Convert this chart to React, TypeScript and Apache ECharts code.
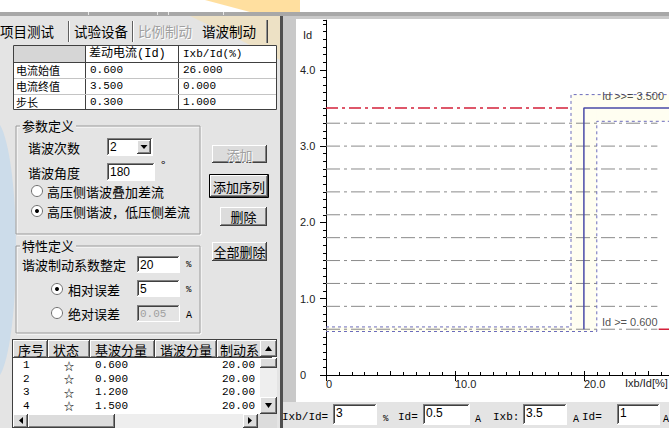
import React, { useEffect, useRef } from "react";
import * as echarts from "echarts";

// ---------------- data ----------------
const tabNames = ["项目测试", "试验设备", "比例制动", "谐波制动"];
const tableCols = ["差动电流(Id)", "Ixb/Id(%)"];
const tableRows = ["电流始值", "电流终值", "步长"];
const idCol = ["0.600", "3.500", "0.300"];
const ratioCol = ["26.000", "0.000", "1.000"];
const paramTitle = "参数定义";
const harmonicOrderLabel = "谐波次数";
const harmonicOrder = "2";
const harmonicAngleLabel = "谐波角度";
const harmonicAngle = "180";
const radioModes = ["高压侧谐波叠加差流", "高压侧谐波，低压侧差流"];
const buttonNames = ["添加", "添加序列", "删除", "全部删除"];
const charTitle = "特性定义";
const coefLabel = "谐波制动系数整定";
const coefSetting = "20";
const errLabels = ["相对误差", "绝对误差"];
const relErr = "5";
const absErr = "0.05";
const listCols = ["序号", "状态", "基波分量", "谐波分量", "制动系"];
const listIdx = ["1", "2", "3", "4"];
const listState = ["☆", "☆", "☆", "☆"];
const listFund = ["0.600", "0.900", "1.200", "1.500"];
const listCoef = ["20.00", "20.00", "20.00", "20.00"];
const bottomLabels = ["Ixb/Id=", "Id=", "Ixb:", "Id="];
const bottomValues = ["3", "0.5", "3.5", "1"];
const bottomUnits = ["%", "A", "A", "A"];

// chart data
const xMax = 26.6;
const yMax = 4.65;
const xLabelTicks = [0, 10, 20];
const yLabelTicks = [0, 1, 2, 3, 4];
const axisNameY = "Id";
const axisNameX = "Ixb/Id[%]";
const testLevels = [0.6, 0.9, 1.2, 1.5, 1.8, 2.1, 2.4, 2.7, 3.0, 3.3];
const testSpan = [0, 25.7];
const quickLine = [[0, 3.5], [19, 3.5]];
const minLineTail = [[25.8, 0.6], [26.6, 0.6]];
const characteristic = [[20, 0.6], [20, 3.5], [26.6, 3.5]];
const outerBound = [[0, 0.63], [19, 0.63], [19, 3.675], [26.6, 3.675]];
const innerBound = [[0, 0.57], [21, 0.57], [21, 3.325], [26.6, 3.325]];
const bandRects = [
  [[19, 0.57], [21, 3.675]],
  [[0, 0.57], [19, 0.63]],
  [[21, 3.325], [26.6, 3.675]],
];
const charLabels = ["Id >>= 3.500", "Id >= 0.600"];
const charLabelAt = [[21.4, 3.66], [21.4, 0.7]];

// ---------------- drawing helpers ----------------
const CJK = "'Noto Sans CJK SC', 'Noto Sans', sans-serif";
const MONO = "'Liberation Mono', 'Noto Sans CJK SC', monospace";
const SANS = "'Liberation Sans', Arial, sans-serif";
const PANEL = "#e4e4e4";
const BTN = "#dcdcdc";

function T(x: number, y: number, text: string, o: any = {}) {
  const align = o.align ?? "left";
  return {
    type: "text",
    x,
    y,
    z: o.z ?? 30,
    silent: true,
    style: {
      text,
      fill: o.fill ?? "#000",
      font: `${o.weight ?? "normal"} ${o.size ?? 13}px ${o.family ?? CJK}`,
      textAlign: align,
      textVerticalAlign: "middle",
      align,
      verticalAlign: "middle",
    },
  };
}
function R(x: number, y: number, w: number, h: number, fill: string, stroke?: string, z = 5) {
  return {
    type: "rect",
    z,
    silent: true,
    shape: stroke ? { x: x + 0.5, y: y + 0.5, width: w - 1, height: h - 1 } : { x, y, width: w, height: h },
    style: { fill, stroke: stroke ?? "none", lineWidth: 1 },
  };
}
function L(x1: number, y1: number, x2: number, y2: number, stroke: string, z = 20) {
  let a = x1, b = y1, c = x2, d = y2;
  if (y1 === y2) { b += 0.5; d += 0.5; }
  if (x1 === x2) { a += 0.5; c += 0.5; }
  return { type: "line", z, silent: true, shape: { x1: a, y1: b, x2: c, y2: d }, style: { stroke, lineWidth: 1 } };
}
function sunken(x: number, y: number, w: number, h: number, fill = "#fff") {
  return [
    R(x, y, w, h, fill, undefined, 10),
    L(x, y, x + w - 1, y, "#808080"),
    L(x, y, x, y + h - 1, "#808080"),
    L(x + 1, y + 1, x + w - 2, y + 1, "#404040"),
    L(x + 1, y + 1, x + 1, y + h - 2, "#404040"),
    L(x, y + h - 1, x + w, y + h - 1, "#ffffff"),
    L(x + w - 1, y, x + w - 1, y + h, "#ffffff"),
  ];
}
function raised(x: number, y: number, w: number, h: number, fill = BTN, z = 10) {
  return [
    R(x, y, w, h, fill, undefined, z),
    L(x, y, x + w - 1, y, "#ffffff", z + 1),
    L(x, y, x, y + h - 1, "#ffffff", z + 1),
    L(x, y + h - 1, x + w, y + h - 1, "#404040", z + 1),
    L(x + w - 1, y, x + w - 1, y + h, "#404040", z + 1),
    L(x + 1, y + h - 2, x + w - 1, y + h - 2, "#808080", z + 1),
    L(x + w - 2, y + 1, x + w - 2, y + h - 1, "#808080", z + 1),
  ];
}
function radio(cx: number, cy: number, checked: boolean) {
  const els: any[] = [
    { type: "circle", z: 20, silent: true, shape: { cx, cy, r: 5.5 }, style: { fill: "#fff", stroke: "#707070", lineWidth: 1 } },
  ];
  if (checked) els.push({ type: "circle", z: 21, silent: true, shape: { cx, cy, r: 2 }, style: { fill: "#000" } });
  return els;
}
function groupBox(x: number, y: number, w: number, h: number, title: string) {
  return [
    R(x + 0.5, y + 0.5, w, h, "none", "#9a9a9a", 8),
    R(x + 1.5, y + 1.5, w, h, "none", "#ffffff", 7),
    R(x + 5, y - 8, title.length * 13 + 4, 16, PANEL, undefined, 12),
    T(x + 7, y, title, { size: 13 }),
  ];
}
function disabledText(x: number, y: number, text: string, o: any = {}) {
  return [
    T(x + 1, y + 1, text, { ...o, fill: "#ffffff", z: 29 }),
    T(x, y, text, { ...o, fill: "#a0a0a0" }),
  ];
}

function buildGraphics() {
  const g: any[] = [];
  // page / frame backgrounds
  g.push(R(0, 0, 669, 12, "#ffffff", undefined, -20));
  g.push({ type: "polygon", z: -19, silent: true, shape: { points: [[205, 0], [300, 0], [300, 12], [250, 12]] }, style: { fill: "rgba(255,196,80,0.55)" } });
  g.push(R(0, 12, 669, 4, "#a8a8a8", undefined, -18));
  g.push(L(88, 12, 88, 15, "#e8e8e8", -17), L(157, 12, 157, 15, "#e8e8e8", -17), L(168, 12, 168, 15, "#e8e8e8", -17), L(223, 12, 223, 15, "#e8e8e8", -17));
  g.push(R(0, 16, 280, 412, PANEL, undefined, -18));
  g.push({ type: "polygon", z: -17, silent: true, shape: { points: [[190, 16], [280, 16], [280, 60], [240, 40]] }, style: { fill: "rgba(255,220,140,0.35)" } });
  g.push({ type: "ellipse", z: -17, silent: true, shape: { cx: -6, cy: 250, rx: 22, ry: 130 }, style: { fill: "rgba(120,190,255,0.22)" } });
  g.push(R(280, 16, 3, 412, "#505050", undefined, -18));
  g.push(R(283, 16, 386, 412, "#c9c9c9", undefined, -18));
  g.push(R(296, 19, 373, 383, "#ffffff", undefined, -16));
  g.push(R(283, 402, 386, 26, PANEL, undefined, -16));

  // tabs
  const TAB = 13.5;
  g.push(T(0, 31, tabNames[0], { size: TAB }));
  g.push(L(68, 21, 68, 42, "#606060"), L(69, 21, 69, 42, "#ffffff"));
  g.push(T(74, 31, tabNames[1], { size: TAB }));
  g.push(L(132, 21, 132, 42, "#606060"), L(133, 21, 133, 42, "#ffffff"));
  g.push(...disabledText(138, 31, tabNames[2], { size: TAB }));
  g.push(T(202, 31, tabNames[3], { size: TAB }));
  g.push(L(267, 20, 267, 43, "#404040"), L(266, 20, 266, 43, "#909090"));

  // parameter table
  const tx = [13, 85, 178, 277];
  const ty = [45, 62, 78, 94, 110];
  g.push(R(tx[0], ty[0], tx[3] - tx[0], ty[4] - ty[0], "#ffffff", undefined, 9));
  g.push(R(tx[0] + 1, ty[0] + 1, tx[1] - tx[0] - 1, ty[1] - ty[0] - 1, "#d6d6d6", undefined, 10));
  g.push(R(tx[0], ty[0], tx[3] - tx[0], ty[4] - ty[0], "none", "#404040", 22));
  g.push(L(tx[1], ty[0], tx[1], ty[4], "#404040"), L(tx[2], ty[0], tx[2], ty[4], "#404040"));
  g.push(L(tx[0], ty[1], tx[3], ty[1], "#404040"));
  g.push(L(tx[0], ty[2], tx[3], ty[2], "#c4c4c4"), L(tx[0], ty[3], tx[3], ty[3], "#c4c4c4"));
  g.push(T(tx[1] + 4, 54, tableCols[0], { size: 12, family: MONO }));
  g.push(T(tx[2] + 5, 54, tableCols[1], { size: 11, family: MONO }));
  tableRows.forEach((r, i) => {
    const cy = (ty[i + 1] + ty[i + 2]) / 2;
    g.push(T(tx[0] + 3, cy, r, { size: 11 }));
    g.push(T(tx[1] + 5, cy, idCol[i], { size: 11, family: MONO }));
    g.push(T(tx[2] + 5, cy, ratioCol[i], { size: 11, family: MONO }));
  });

  // group box 1
  g.push(...groupBox(15, 125, 185, 109, paramTitle));
  g.push(T(28, 147, harmonicOrderLabel));
  g.push(...sunken(107, 138, 46, 18));
  g.push(T(110, 147, harmonicOrder, { size: 12, family: SANS }));
  g.push(...raised(137, 140, 14, 14, BTN, 24));
  g.push({ type: "polygon", z: 27, silent: true, shape: { points: [[140.5, 145], [147.5, 145], [144, 149]] }, style: { fill: "#000" } });
  g.push(T(28, 172, harmonicAngleLabel));
  g.push(...sunken(107, 163, 48, 18));
  g.push(T(110, 172, harmonicAngle, { size: 12, family: SANS }));
  g.push(T(161, 164, "°", { size: 12 }));
  g.push(...radio(37, 191, false));
  g.push(T(47, 191, radioModes[0]));
  g.push(...radio(37, 211, true));
  g.push(T(47, 211, radioModes[1]));

  // buttons
  g.push(...raised(212, 145, 55, 18));
  g.push(...disabledText(239.5, 154, buttonNames[0], { align: "center" }));
  g.push(R(209, 174, 60, 24, "none", "#000000", 26));
  g.push(...raised(210, 175, 58, 22));
  g.push(T(239, 186, buttonNames[1], { align: "center" }));
  g.push(...raised(220, 207, 47, 19));
  g.push(T(243.5, 216.5, buttonNames[2], { align: "center" }));
  g.push(...raised(212, 242, 55, 19));
  g.push(T(239.5, 251.5, buttonNames[3], { align: "center" }));

  // group box 2
  g.push(...groupBox(15, 245, 185, 88, charTitle));
  g.push(T(22, 264, coefLabel));
  g.push(...sunken(137, 256, 43, 17));
  g.push(T(140, 264.5, coefSetting, { size: 12, family: SANS }));
  g.push(T(186, 265, "%", { size: 9, family: MONO }));
  g.push(...radio(57, 289, true));
  g.push(T(68, 289, errLabels[0]));
  g.push(...sunken(137, 280, 43, 17));
  g.push(T(140, 288.5, relErr, { size: 12, family: SANS }));
  g.push(T(186, 290, "%", { size: 9, family: MONO }));
  g.push(...radio(57, 313, false));
  g.push(T(68, 313, errLabels[1]));
  g.push(...sunken(137, 305, 43, 17, PANEL));
  g.push(T(140, 314, absErr, { size: 11, family: MONO, fill: "#a0a0a0" }));
  g.push(T(186, 315, "A", { size: 10, family: MONO }));

  // list
  const lx = [13, 48, 90, 155, 217, 260, 277];
  const lyTop = 340, lyHead = 358, rowH = 13.5;
  g.push(R(lx[0], lyTop, lx[6] - lx[0], 428 - lyTop, "#ffffff", undefined, 9));
  g.push(L(lx[0], lyTop - 1, lx[6], lyTop - 1, "#404040"), L(lx[0] - 1, lyTop - 1, lx[0] - 1, 428, "#404040"));
  for (let i = 0; i < 5; i++) {
    const w = (i === 4 ? lx[5] : lx[i + 1]) - lx[i];
    g.push(...raised(lx[i], lyTop, w + (i === 4 ? 12 : 0), lyHead - lyTop, BTN, 12));
  }
  listCols.forEach((c, i) => {
    const starts = [18, 53, 95, 160, 220];
    g.push(T(starts[i], 349, c, { size: 13 }));
  });
  listIdx.forEach((v, i) => {
    const cy = lyHead + 7 + i * rowH;
    g.push(T(23, cy, v, { size: 11, family: MONO }));
    g.push(T(69, cy, listState[i], { size: 10.5, align: "center" }));
    g.push(T(95, cy, listFund[i], { size: 11, family: MONO }));
    g.push(T(222, cy, listCoef[i], { size: 11, family: MONO }));
  });
  // vertical scrollbar
  g.push(R(lx[5], lyHead, lx[6] - lx[5], 414 - lyHead, "#eeeeee", undefined, 40));
  g.push(...raised(lx[5], lyTop, 17, 17, BTN, 41));
  g.push({ type: "polygon", z: 45, silent: true, shape: { points: [[265, 351], [272, 351], [268.5, 346]] }, style: { fill: "#000" } });
  g.push(...raised(lx[5], 358, 17, 10, BTN, 41));
  g.push(...raised(lx[5], 397, 17, 17, BTN, 41));
  g.push({ type: "polygon", z: 45, silent: true, shape: { points: [[265, 403], [272, 403], [268.5, 408]] }, style: { fill: "#000" } });
  // horizontal scrollbar
  g.push(R(lx[0], 414, lx[6] - lx[0], 14, "#eeeeee", undefined, 40));
  g.push(...raised(lx[0], 414, 15, 14, BTN, 41));
  g.push({ type: "polygon", z: 45, silent: true, shape: { points: [[23, 417], [23, 424], [19, 420.5]] }, style: { fill: "#000" } });
  g.push(...raised(28, 414, 87, 14, BTN, 41));
  g.push(...raised(243, 414, 15, 14, BTN, 41));
  g.push({ type: "polygon", z: 45, silent: true, shape: { points: [[248, 417], [248, 424], [252, 420.5]] }, style: { fill: "#000" } });
  g.push(R(258, 414, 19, 14, BTN, undefined, 41));

  // chart axis names
  g.push(T(303, 35, axisNameY, { size: 11, family: SANS, fill: "#222" }));
  g.push(T(625, 383, axisNameX, { size: 11, family: SANS, fill: "#222" }));

  // bottom input row
  const lblX = [282, 398, 493, 582];
  const boxX = [333, 423, 523, 617];
  const boxW = [44, 47, 44, 43];
  const unitX = [383, 475, 573, 663];
  bottomLabels.forEach((lab, i) => {
    g.push(T(lblX[i], 417, lab, { size: 11, family: MONO }));
    g.push(...sunken(boxX[i], 404, boxW[i], 21));
    g.push(T(boxX[i] + 3, 413, bottomValues[i], { size: 12, family: SANS }));
    g.push(T(unitX[i], 419, bottomUnits[i], { size: i === 0 ? 9 : 10, family: MONO }));
  });
  return g;
}

const fmtTick = (ticks: number[]) => (v: number) => {
  const hit = ticks.find((t) => Math.abs(t - v) < 1e-6);
  if (hit === undefined) return "";
  return hit === 0 ? "0" : hit.toFixed(1);
};

export default function App() {
  const ref = useRef<HTMLDivElement>(null);
  useEffect(() => {
    if (!ref.current) return;
    const chart = echarts.init(ref.current, undefined, { renderer: "svg" });
    const lineBase = { type: "line", symbol: "none", silent: true, xAxisIndex: 0, yAxisIndex: 0 };
    const series: any[] = [];
    series.push({
      ...lineBase,
      data: [],
      markArea: {
        silent: true,
        itemStyle: { color: "rgba(255,252,215,0.35)" },
        data: bandRects.map(([a, b]) => [{ coord: a }, { coord: b }]),
      },
      z: 1,
    });
    testLevels.forEach((v) => {
      series.push({
        ...lineBase,
        data: [[testSpan[0], v], [testSpan[1], v]],
        lineStyle: { color: "#8a8a8a", width: 1, type: [14, 4, 3, 4] },
        z: 2,
      });
    });
    series.push({ ...lineBase, data: outerBound, lineStyle: { color: "#6c6cbc", width: 1, type: [3, 3] }, z: 3 });
    series.push({ ...lineBase, data: innerBound, lineStyle: { color: "#6c6cbc", width: 1, type: [3, 3] }, z: 3 });
    series.push({ ...lineBase, data: quickLine, lineStyle: { color: "#d4203a", width: 1.5, type: [12, 4, 3, 4] }, z: 4 });
    series.push({ ...lineBase, data: minLineTail, lineStyle: { color: "#d4203a", width: 1.5, type: [12, 4, 3, 4] }, z: 4 });
    series.push({ ...lineBase, data: characteristic, lineStyle: { color: "#4a4aa8", width: 1.5 }, z: 5 });
    series.push({
      type: "scatter",
      silent: true,
      symbolSize: 0,
      data: charLabels.map((t, i) => ({ name: t, value: charLabelAt[i] })),
      label: {
        show: true,
        position: "right",
        distance: 0,
        formatter: (p: any) => p.name,
        fontSize: 11,
        fontFamily: SANS,
        color: "#222",
      },
      z: 6,
    });

    const axisCommon = { splitLine: { show: false } };
    const option: any = {
      animation: false,
      backgroundColor: "#ffffff",
      grid: { left: 326, right: 0, top: 375 - yMax * 76.3, bottom: 53, containLabel: false },
      xAxis: [
        {
          ...axisCommon,
          type: "value",
          min: 0,
          max: xMax,
          interval: 10,
          axisLine: { show: true, onZero: false, lineStyle: { color: "#000", width: 1 } },
          axisTick: { show: true, length: 6, lineStyle: { color: "#000" } },
          axisLabel: { formatter: fmtTick(xLabelTicks), align: "left", margin: 3, fontSize: 11, fontFamily: SANS, color: "#222", showMaxLabel: false },
        },
        {
          ...axisCommon,
          type: "value",
          min: 0,
          max: xMax,
          interval: 1,
          axisLine: { show: false },
          axisTick: { show: true, length: 3, lineStyle: { color: "#000" } },
          axisLabel: { show: false },
        },
        {
          ...axisCommon,
          type: "value",
          min: 0,
          max: xMax,
          interval: 5,
          axisLine: { show: false },
          axisTick: { show: true, length: 4, lineStyle: { color: "#000" } },
          axisLabel: { show: false },
        },
      ],
      yAxis: [
        {
          ...axisCommon,
          type: "value",
          min: 0,
          max: yMax,
          interval: 1,
          axisLine: { show: true, onZero: false, lineStyle: { color: "#000", width: 1 } },
          axisTick: { show: true, length: 6, lineStyle: { color: "#000" } },
          axisLabel: { formatter: fmtTick(yLabelTicks), align: "left", margin: 26, fontSize: 11, fontFamily: SANS, color: "#222", showMaxLabel: false },
        },
        {
          ...axisCommon,
          type: "value",
          position: "left",
          min: 0,
          max: yMax,
          interval: 0.1,
          axisLine: { show: false },
          axisTick: { show: true, length: 3, lineStyle: { color: "#000" } },
          axisLabel: { show: false },
        },
      ],
      series,
      graphic: { elements: buildGraphics() },
    };
    chart.setOption(option);
    return () => chart.dispose();
  }, []);
  return <div ref={ref} style={{ position: "absolute", left: 0, top: 0, width: 669, height: 428 }} />;
}
